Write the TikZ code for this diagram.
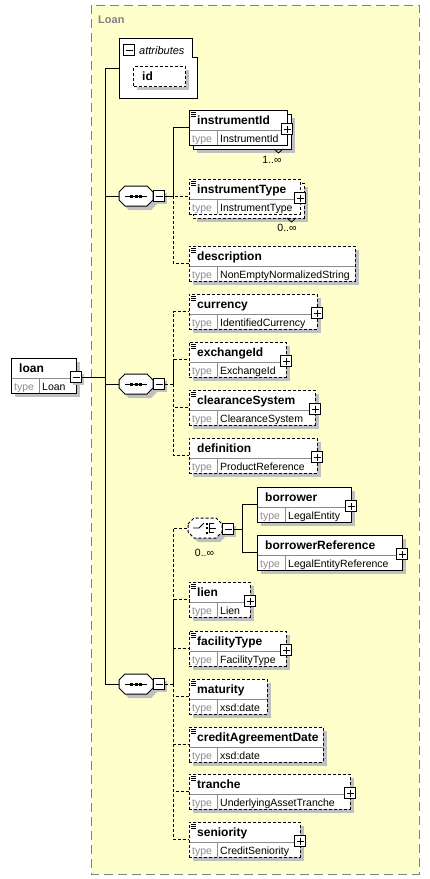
\documentclass[tikz,border=0pt]{standalone}
\usepackage{fontspec}
\setmainfont{Liberation Sans}
\definecolor{bgyellow}{RGB}{255,255,204}
\definecolor{shadowc}{RGB}{192,192,192}
\definecolor{framegray}{RGB}{128,128,128}
\definecolor{divgray}{RGB}{140,140,140}
\definecolor{typegray}{RGB}{140,140,140}
\newcommand\eshadow[3]{\fill[shadowc] ({#1+4},{#2+4}) rectangle ++(#3,35);}
\newcommand\estack[4]{\fill[shadowc] ({#1+8},{#2+8}) rectangle ++(#3,35);
  \draw[boxline,#4] ({#1+4},{#2+4}) rectangle ++(#3,35);}
\newcommand\elem[7]{%
  \node[ebox,#5,minimum width=#4pt,anchor=north west] (#1) at (#2,#3) {};
  \draw[divl] ({#2+0.5},{#3+20.5}) -- ({#2+#4-0.5},{#3+20.5});
  \draw[divl] ({#2+28},{#3+20.5}) -- ({#2+28},{#3+34.5});
  \node[ttl] (#1-n) at ({#2+8},{#3+14.5}) {#6};
  \node[tylbl] (#1-k) at ({#2+3},{#3+32}) {type};
  \node[tytxt] (#1-t) at ({#2+31},{#3+32}) {#7};}
\newcommand\annot[2]{\draw[line width=0.8pt] ({#1+1.5},{#2+2.5}) -- ++(5,0) ({#1+1.5},{#2+4.5}) -- ++(5,0) ({#1+1.5},{#2+6.5}) -- ++(5,0);}
\newcommand\plusbox[3]{\node[pbox] (#1) at (#2,#3) {};
  \draw[line width=1pt] ({#2-3.5},#3) -- ({#2+3.5},#3) (#2,{#3-3.5}) -- (#2,{#3+3.5});}
\newcommand\minusbox[3]{\fill[shadowc] ({#2-3.5},{#3-3.5}) rectangle ++(11,11);
  \node[pbox] (#1) at (#2,#3) {};
  \draw[line width=1pt] ({#2-3.5},#3) -- ({#2+3.5},#3);}
\newcommand\octo[3]{\path[#1] ({#2-17},{#3-4}) -- ({#2-11},{#3-10}) -- ({#2+11},{#3-10}) -- ({#2+17},{#3-4}) -- ({#2+17},{#3+4}) -- ({#2+11},{#3+10}) -- ({#2-11},{#3+10}) -- ({#2-17},{#3+4}) -- cycle;}
\newcommand\seqcomp[3]{%
  \octo{fill=shadowc}{#2+4}{#3+4}
  \octo{boxline}{#2}{#3}
  \node[comp] (#1) at (#2,#3) {};
  \draw[line width=0.8pt] ({#2-11},#3) -- ({#2+11},#3);
  \fill ({#2-6},{#3-1.5}) rectangle ++(3,3);
  \fill ({#2-1.5},{#3-1.5}) rectangle ++(3,3);
  \fill ({#2+3},{#3-1.5}) rectangle ++(3,3);}
\begin{document}
\begin{tikzpicture}[x=1pt,y=-1pt,
  conn/.style={line width=1pt},
  opt/.style={dash pattern=on 3pt off 2pt},
  boxline/.style={draw=black,fill=white,line width=1pt},
  ebox/.style={boxline,inner sep=0pt,outer sep=0pt,minimum height=35pt},
  divl/.style={draw=divgray,line width=0.8pt},
  ttl/.style={font=\fontsize{12}{14}\selectfont\bfseries,inner sep=0pt,anchor=base west},
  tylbl/.style={font=\fontsize{10.5}{12}\selectfont,text=typegray,inner sep=0pt,anchor=base west},
  tytxt/.style={font=\fontsize{10.5}{12}\selectfont,inner sep=0pt,anchor=base west},
  mult/.style={font=\fontsize{10.5}{12}\selectfont,inner sep=0pt,anchor=base},
  pbox/.style={draw=black,fill=white,line width=1.2pt,inner sep=0pt,minimum size=11pt},
  comp/.style={inner sep=0pt,outer sep=0pt,minimum width=34pt,minimum height=20pt}]
\useasboundingbox (0,0) rectangle (430,879);
\fill[white] (0,0) rectangle (430,879);
% frame
\draw[draw=framegray,fill=bgyellow,line width=1pt,dash pattern=on 9pt off 5pt] (91,5) rectangle (419,874);
\node[font=\fontsize{11}{13}\selectfont\bfseries,text=framegray,inner sep=0pt,anchor=base west] (frameLabel) at (98,23) {Loan};
% attributes
\draw[boxline] (119,38) -- (192,38) -- (192,57) -- (197,57) -- (197,98) -- (119,98) -- cycle;
\node[comp,minimum width=78pt,minimum height=60pt] (attr) at (158,68) {};
\node[pbox,line width=1pt] (attrm) at (129,50) {};
\draw[line width=1pt] (125.5,50) -- (132.5,50);
\node[font=\fontsize{11}{13}\selectfont\itshape,inner sep=0pt,anchor=base west] (attr-n) at (139,54) {attributes};
\fill[shadowc] (137,70) rectangle (189,90);
\node[boxline,opt,inner sep=0pt,minimum width=52pt,minimum height=20pt,anchor=north west] (id) at (133,66) {};
\node[ttl] (id-n) at (142,80.5) {id};
% loan
\eshadow{11}{358}{65}
\elem{loan}{11}{358}{65}{}{loan}{Loan}
\minusbox{loanm}{76}{377}
% sequence 1
\seqcomp{seq1}{136}{196}
\minusbox{seq1m}{159}{196}
\estack{189}{110}{98}{}
\elem{instrumentId}{189}{110}{98}{}{instrumentId}{InstrumentId}
\annot{189}{110}
\plusbox{instrumentIdp}{287}{129}
\draw[line width=0.8pt] (274,149) -- (278.5,153) -- (283,149);
\node[mult] (instrumentId-m) at (272,163) {1..∞};
\estack{189}{179}{111}{opt}
\elem{instrumentType}{189}{179}{111}{opt}{instrumentType}{InstrumentType}
\annot{189}{179}
\plusbox{instrumentTypep}{300}{198}
\draw[line width=0.8pt] (287,218) -- (291.5,222) -- (296,218);
\node[mult] (instrumentType-m) at (287,231) {0..∞};
\eshadow{189}{246}{166}
\elem{description}{189}{246}{166}{opt}{description}{NonEmptyNormalizedString}
\annot{189}{246}
% sequence 2
\seqcomp{seq2}{136}{384}
\minusbox{seq2m}{159}{384}
\eshadow{189}{294}{128}
\elem{currency}{189}{294}{128}{opt}{currency}{IdentifiedCurrency}
\annot{189}{294}
\plusbox{currencyp}{317}{313}
\eshadow{189}{342}{97}
\elem{exchangeId}{189}{342}{97}{opt}{exchangeId}{ExchangeId}
\annot{189}{342}
\plusbox{exchangeIdp}{286}{361}
\eshadow{189}{390}{126}
\elem{clearanceSystem}{189}{390}{126}{opt}{clearanceSystem}{ClearanceSystem}
\annot{189}{390}
\plusbox{clearanceSystemp}{315}{409}
\eshadow{189}{438}{128}
\elem{definition}{189}{438}{128}{opt}{definition}{ProductReference}
\plusbox{definitionp}{317}{457}
% sequence 3
\seqcomp{seq3}{136}{684}
\minusbox{seq3m}{159}{684}
% choice
\octo{fill=shadowc}{209}{532}
\octo{boxline,opt}{205}{528}
\node[comp] (choice) at (205,528) {};
\draw[line width=0.8pt] (193,528) -- (199,528) -- (204,523);
\fill (205.5,522.5) rectangle ++(2,2);
\fill (205.5,527) rectangle ++(2,2);
\fill (205.5,531.5) rectangle ++(2,2);
\draw[line width=0.8pt] (209,523.5) -- (209,532.5) (209,523.5) -- (214,523.5) (209,528) -- (216,528) (209,532.5) -- (214,532.5);
\minusbox{choicem}{228}{529}
\node[mult] (choice-m) at (204.5,556) {0..∞};
\eshadow{257}{487}{94}
\elem{borrower}{257}{487}{94}{}{borrower}{LegalEntity}
\plusbox{borrowerp}{351}{506}
\eshadow{257}{535}{145}
\elem{borrowerReference}{257}{535}{145}{}{borrowerReference}{LegalEntityReference}
\plusbox{borrowerReferencep}{402}{554}
\eshadow{189}{582}{61}
\elem{lien}{189}{582}{61}{opt}{lien}{Lien}
\annot{189}{582}
\plusbox{lienp}{250}{601}
\eshadow{189}{631}{97}
\elem{facilityType}{189}{631}{97}{opt}{facilityType}{FacilityType}
\annot{189}{631}
\plusbox{facilityTypep}{286}{650}
\eshadow{189}{679}{78}
\elem{maturity}{189}{679}{78}{opt}{maturity}{xsd:date}
\annot{189}{679}
\eshadow{189}{727}{134}
\elem{creditAgreementDate}{189}{727}{134}{opt}{creditAgreementDate}{xsd:date}
\annot{189}{727}
\eshadow{189}{774}{161}
\elem{tranche}{189}{774}{161}{opt}{tranche}{UnderlyingAssetTranche}
\annot{189}{774}
\plusbox{tranchep}{350}{793}
\eshadow{189}{822}{111}
\elem{seniority}{189}{822}{111}{opt}{seniority}{CreditSeniority}
\annot{189}{822}
\plusbox{seniorityp}{300}{841}
% connectors
\coordinate (busL) at (105,377);
\draw[conn] (loanm.east) -- (busL) |- (attr.west);
\draw[conn] (busL) |- (seq1.west);
\draw[conn] (busL) |- (seq2.west);
\draw[conn] (busL) |- (seq3.west);
\coordinate (bus1) at (173,196);
\draw[conn,opt] (seq1m.east) -- (bus1) |- (instrumentType.west);
\draw[conn,opt] (bus1) |- (description.west);
\draw[conn] (seq1m.east) -- (bus1) |- (instrumentId.west);
\coordinate (bus2) at (173,384);
\draw[conn,opt] (seq2m.east) -- (bus2) |- (currency.west);
\draw[conn,opt] (bus2) |- (exchangeId.west);
\draw[conn,opt] (bus2) |- (clearanceSystem.west);
\draw[conn,opt] (bus2) |- (definition.west);
\coordinate (bus3) at (173,684);
\draw[conn,opt] (seq3m.east) -- (bus3) |- (choice.west);
\draw[conn,opt] (bus3) |- (lien.west);
\draw[conn,opt] (bus3) |- (facilityType.west);
\draw[conn,opt] (bus3) |- (maturity.west);
\draw[conn,opt] (bus3) |- (creditAgreementDate.west);
\draw[conn,opt] (bus3) |- (tranche.west);
\draw[conn,opt] (bus3) |- (seniority.west);
\coordinate (bus4) at (242,529);
\draw[conn] (choicem.east) -- (bus4) |- (borrower.west);
\draw[conn] (bus4) |- (borrowerReference.west);
\end{tikzpicture}
\end{document}
